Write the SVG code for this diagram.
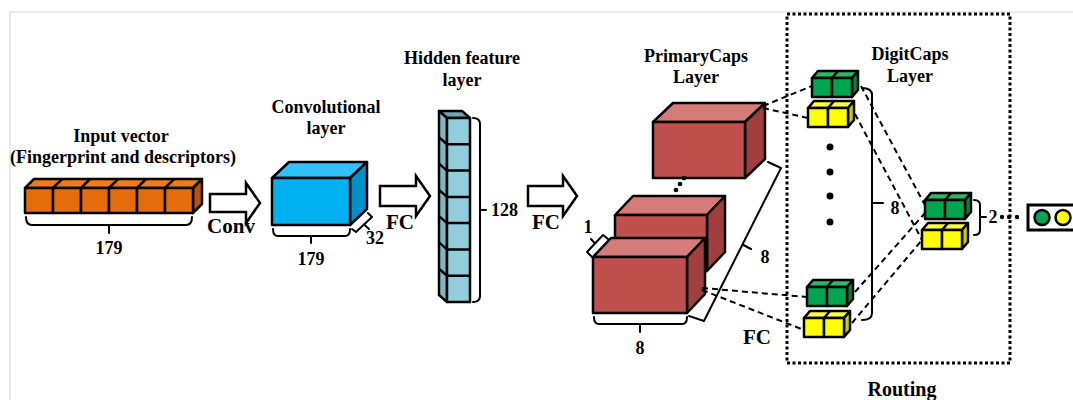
<svg xmlns="http://www.w3.org/2000/svg" xmlns:xlink="http://www.w3.org/1999/xlink" width="1073" height="400" viewBox="0 0 1073 400" font-family="'Liberation Serif', 'Times New Roman', serif">
  <style>
    text { font-family: "Liberation Serif", "Times New Roman", serif; font-weight: bold; font-size: 18px; fill: #000; }
    .mid { text-anchor: middle; }
    .op { font-size: 21px; }
    .edge { stroke: #000; stroke-width: 2.5; stroke-linejoin: round; }
    .brk { fill: none; stroke: #000; stroke-width: 2; stroke-linecap: round; stroke-linejoin: round; }
    .arrow { fill: #fff; stroke: #000; stroke-width: 2.5; stroke-linejoin: miter; }
    .dash { fill: none; stroke: #000; stroke-width: 2; stroke-dasharray: 6 4; }
    .or-f { fill: #E46C0A; } .or-t { fill: #EE7C1C; } .or-s { fill: #B4540A; }
    .bl-f { fill: #00B0F0; } .bl-t { fill: #30C2F6; } .bl-s { fill: #0090C8; }
    .hf-f { fill: #92CDDC; } .hf-t { fill: #6FA5B3; } .hf-s { fill: #7DB7C6; }
    .rd-f { fill: #C0504D; } .rd-t { fill: #D57B79; } .rd-s { fill: #A03F3D; }
    .gn-f { fill: #00A550; } .gn-t { fill: #2DB865; } .gn-s { fill: #05823C; }
    .ye-f { fill: #FFFF00; } .ye-t { fill: #FFFF40; } .ye-s { fill: #CCCC00; }
  </style>
  <defs>
    <!-- two-cell capsule, front top-left corner at the origin -->
    <g id="capG">
      <polygon class="edge gn-t" points="0,0 40,0 46,-7 6,-7"/>
      <line class="edge" x1="20" y1="0" x2="26" y2="-7"/>
      <polygon class="edge gn-s" points="40,0 46,-7 46,12 40,19"/>
      <rect class="edge gn-f" x="0" y="0" width="20" height="19"/>
      <rect class="edge gn-f" x="20" y="0" width="20" height="19"/>
    </g>
    <g id="capY">
      <polygon class="edge ye-t" points="0,0 40,0 46,-7 6,-7"/>
      <line class="edge" x1="20" y1="0" x2="26" y2="-7"/>
      <polygon class="edge ye-s" points="40,0 46,-7 46,12 40,19"/>
      <rect class="edge ye-f" x="0" y="0" width="20" height="19"/>
      <rect class="edge ye-f" x="20" y="0" width="20" height="19"/>
    </g>
  </defs>

  <rect width="1073" height="400" fill="#fff"/>
  <!-- frame -->
  <path d="M10,400 V12 H1073" fill="none" stroke="#e4e4e4" stroke-width="1.5"/>

  <!-- input vector -->
  <g id="input">
    <polygon class="edge or-t" points="25,188 193,188 202,179 34,179"/>
    <path class="edge" d="M53,188 L62,179 M81,188 L90,179 M109,188 L118,179 M137,188 L146,179 M165,188 L174,179"/>
    <polygon class="edge or-s" points="193,188 202,179 202,204 193,213"/>
    <rect class="edge or-f" x="25" y="188" width="28" height="25"/>
    <rect class="edge or-f" x="53" y="188" width="28" height="25"/>
    <rect class="edge or-f" x="81" y="188" width="28" height="25"/>
    <rect class="edge or-f" x="109" y="188" width="28" height="25"/>
    <rect class="edge or-f" x="137" y="188" width="28" height="25"/>
    <rect class="edge or-f" x="165" y="188" width="28" height="25"/>
    <path class="brk" d="M26,217 Q26,225 32,225 H186 Q192,225 192,217 M109,225 V233"/>
    <text class="mid" x="121" y="142">Input vector</text>
    <text class="mid" x="123" y="163">(Fingerprint and descriptors)</text>
    <text class="mid" x="109" y="254">179</text>
  </g>

  <!-- convolutional layer -->
  <g id="conv">
    <polygon class="edge bl-t" points="272,178 350,178 367,162 289,162"/>
    <polygon class="edge bl-s" points="350,178 367,162 367,209 350,225"/>
    <rect class="edge bl-f" x="272" y="178" width="78" height="47"/>
    <path class="brk" d="M273,229 Q273,236 278,236 H345 Q350,236 350,229 M311,236 V243"/>
    <path class="brk" d="M352,229 L356,232 L372,217 L368,213 M364,224.5 L369,229"/>
    <text class="mid" x="326" y="113">Convolutional</text>
    <text class="mid" x="326" y="134">layer</text>
    <text class="mid" x="311" y="265">179</text>
    <text class="mid" x="375" y="244">32</text>
  </g>

  <!-- hidden feature layer -->
  <g id="hidden">
    <polygon class="edge hf-t" points="439,111 462,111 470,118 447,118"/>
    <polygon class="edge hf-s" points="439,111 447,118 447,302 439,295"/>
    <rect class="edge hf-f" x="447" y="118" width="23" height="184"/>
    <path class="edge" fill="none" d="M439,137.3 L447,144.3 H470 M439,163.6 L447,170.6 H470 M439,189.9 L447,196.9 H470 M439,216.1 L447,223.1 H470 M439,242.4 L447,249.4 H470 M439,268.7 L447,275.7 H470"/>
    <path class="brk" d="M473,118 Q480,118 480,124 V296 Q480,302 473,302 M480,210 H486"/>
    <text class="mid" x="462" y="64">Hidden feature</text>
    <text class="mid" x="462" y="86">layer</text>
    <text x="491" y="216">128</text>
  </g>

  <!-- PrimaryCaps layer -->
  <g id="primarycaps">
    <polygon class="edge rd-t" points="653,122 745,122 765,103 673,103"/>
    <polygon class="edge rd-s" points="745,122 765,103 765,159 745,178"/>
    <rect class="edge rd-f" x="653" y="122" width="92" height="56"/>
    <circle cx="684" cy="178" r="2.3"/>
    <circle cx="680" cy="184" r="2.3"/>
    <circle cx="676" cy="190" r="2.3"/>
    <polygon class="edge rd-t" points="615,215 707,215 725,196 633,196"/>
    <polygon class="edge rd-s" points="707,215 725,196 725,252 707,271"/>
    <rect class="edge rd-f" x="615" y="215" width="92" height="56"/>
    <polygon class="edge rd-t" points="593,257 687,257 705,238 611,238"/>
    <polygon class="edge rd-s" points="687,257 705,238 705,294 687,313"/>
    <rect class="edge rd-f" x="593" y="257" width="94" height="56"/>
    <path class="brk" d="M592,257 L587,252 L603,235 L608,239 M595,243.5 L591,239"/>
    <path class="brk" d="M594,317 Q594,324 599,324 H682 Q687,324 687,317 M640,324 V332"/>
    <path class="brk" d="M689,316 L704,321 L781,168 L768,162 M742.5,244.5 L751,249"/>
    <text class="mid" x="696" y="62">PrimaryCaps</text>
    <text class="mid" x="696" y="83">Layer</text>
    <text class="mid" x="588" y="233">1</text>
    <text class="mid" x="640" y="354">8</text>
    <text class="mid" x="765" y="263">8</text>
  </g>

  <!-- connectors -->
  <g id="connectors">
    <path class="arrow" d="M210,194 H246 V183 L260,203 L246,223 V212 H210 Z"/>
    <path class="arrow" d="M380,186 H416 V176 L430,196 L416,216 V206 H380 Z"/>
    <path class="arrow" d="M528,186 H563 V176 L577,196 L563,216 V206 H528 Z"/>
    <path class="dash" d="M763,106 L812,86 M763,108 L808,118 M702,288 L807,297 M702,290 L804,330"/>
    <path class="dash" d="M861,86 L926,207 M855,114 L922,240 M855,292 L926,212 M852,323 L922,240"/>
    <text class="mid op" x="231" y="233">Conv</text>
    <text class="mid op" x="400" y="229">FC</text>
    <text class="mid op" x="546" y="229">FC</text>
    <text class="mid op" x="757" y="344">FC</text>
  </g>

  <!-- dynamic routing region -->
  <g id="routing">
    <rect x="787" y="14" width="223" height="349" fill="none" stroke="#000" stroke-width="3" stroke-dasharray="3 2.5"/>
    <text class="mid" x="902" y="396" style="font-size:20px">Routing</text>
  </g>

  <!-- DigitCaps layer -->
  <g id="digitcaps">
    <use xlink:href="#capG" x="812" y="78"/>
    <use xlink:href="#capY" x="808" y="108"/>
    <circle cx="830" cy="147" r="3.5"/>
    <circle cx="830" cy="172" r="3.5"/>
    <circle cx="830" cy="196" r="3.5"/>
    <circle cx="830" cy="222" r="3.5"/>
    <use xlink:href="#capG" x="807" y="287"/>
    <use xlink:href="#capY" x="804" y="318"/>
    <path class="brk" d="M862,88 Q872,88 872,95 V313 Q872,320 862,320 M872,203 H883"/>
    <text class="mid" x="910" y="60">DigitCaps</text>
    <text class="mid" x="910" y="82">Layer</text>
    <text class="mid" x="895" y="214">8</text>
  </g>

  <g id="classcaps">
    <use xlink:href="#capG" x="925" y="200"/>
    <use xlink:href="#capY" x="922" y="230"/>
    <path class="brk" d="M974,200 Q980,200 980,205 V230 Q980,235 974,235 M980,217 H986"/>
    <text class="mid" x="993" y="223">2</text>
    <circle cx="1002" cy="217" r="2.2"/>
    <circle cx="1009" cy="217" r="2.2"/>
    <circle cx="1017" cy="217" r="2.2"/>
  </g>

  <!-- output -->
  <g id="output">
    <rect x="1028" y="205" width="60" height="25" fill="#fff" stroke="#000" stroke-width="3"/>
    <circle cx="1042" cy="217.5" r="7.5" fill="#00A550" stroke="#000" stroke-width="2.5"/>
    <circle cx="1063" cy="217.5" r="7.5" fill="#FFFF00" stroke="#000" stroke-width="2.5"/>
  </g>
</svg>
